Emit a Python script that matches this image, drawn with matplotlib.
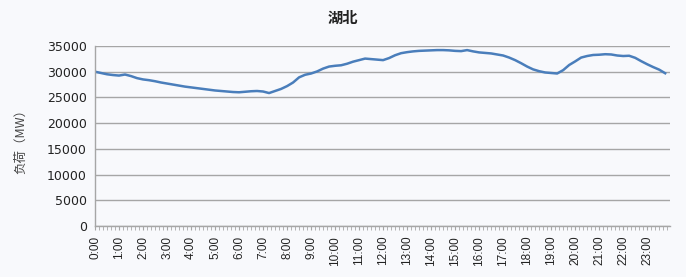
import matplotlib
matplotlib.use("Agg")
import matplotlib.pyplot as plt
import numpy as np

# ── Data: Hubei load curve, 15-min resolution (MW) ────────────────────────────
hours = np.arange(96) * 0.25
load = [
    30000, 29750, 29500, 29350, 29250, 29450, 29150, 28750,
    28500, 28350, 28150, 27900, 27700, 27500, 27300, 27100,
    26950, 26800, 26650, 26500, 26350, 26250, 26150, 26050,
    26000, 26100, 26200, 26250, 26150, 25850, 26250, 26650,
    27200, 27900, 28900, 29400, 29650, 30050, 30600, 31000,
    31150, 31250, 31550, 31950, 32250, 32550, 32450, 32350,
    32250, 32650, 33200, 33600, 33800, 33950, 34050, 34100,
    34150, 34200, 34200, 34150, 34050, 34000, 34200, 33950,
    33750, 33650, 33550, 33350, 33150, 32750, 32250, 31650,
    31000, 30450, 30100, 29850, 29750, 29650, 30300, 31300,
    32000, 32750, 33050, 33250, 33300, 33400, 33350, 33150,
    33050, 33100, 32700, 32050, 31450, 30900, 30400, 29700,
]
hour_labels = [f"{h}:00" for h in range(24)]
y_ticks = [0, 5000, 10000, 15000, 20000, 25000, 30000, 35000]

bg = "#f8f9fc"
fig = plt.figure(figsize=(6.86, 2.77), dpi=100, facecolor=bg)
ax = fig.add_axes([0.1385, 0.184, 0.8385, 0.65], facecolor=bg)

ax.plot(hours, load, color="#4a7ebb", linewidth=1.8, solid_joinstyle="round")

# ── Axes styling ──────────────────────────────────────────────────────────────
ax.set_ylim(0, 35000)
ax.set_xlim(0, 23.96)
ax.set_yticks(y_ticks)
ax.set_yticklabels([str(v) for v in y_ticks], fontsize=9, color="#222222",
                   family="DejaVu Sans")
ax.tick_params(axis="y", length=0, pad=6)
ax.grid(axis="y", color="#a6a6a6", linewidth=1.0)
ax.set_axisbelow(True)

ax.set_xticks(range(24))
ax.set_xticklabels(hour_labels, rotation=90, fontsize=8.5, color="#222222",
                   family="Liberation Sans")
ax.set_xticks(np.arange(0, 24, 1 / 6), minor=True)
ax.tick_params(axis="x", which="both", length=3, color="#a6a6a6", pad=4)

for side in ["top", "right"]:
    ax.spines[side].set_visible(False)
for side in ["left", "bottom"]:
    ax.spines[side].set_color("#a6a6a6")
    ax.spines[side].set_linewidth(1.0)

fig.text(0.5, 0.935, "湖北", ha="center", va="center", fontsize=11,
         fontweight="bold", color="#222222",
         family=["Noto Sans CJK SC", "DejaVu Sans"])
fig.text(0.03, 0.5, "负荷（MW）", ha="center", va="center", rotation=90,
         fontsize=9, color="#444444",
         family=["Noto Sans CJK SC", "DejaVu Sans"])

plt.savefig("out.png", dpi=100, facecolor=bg)
